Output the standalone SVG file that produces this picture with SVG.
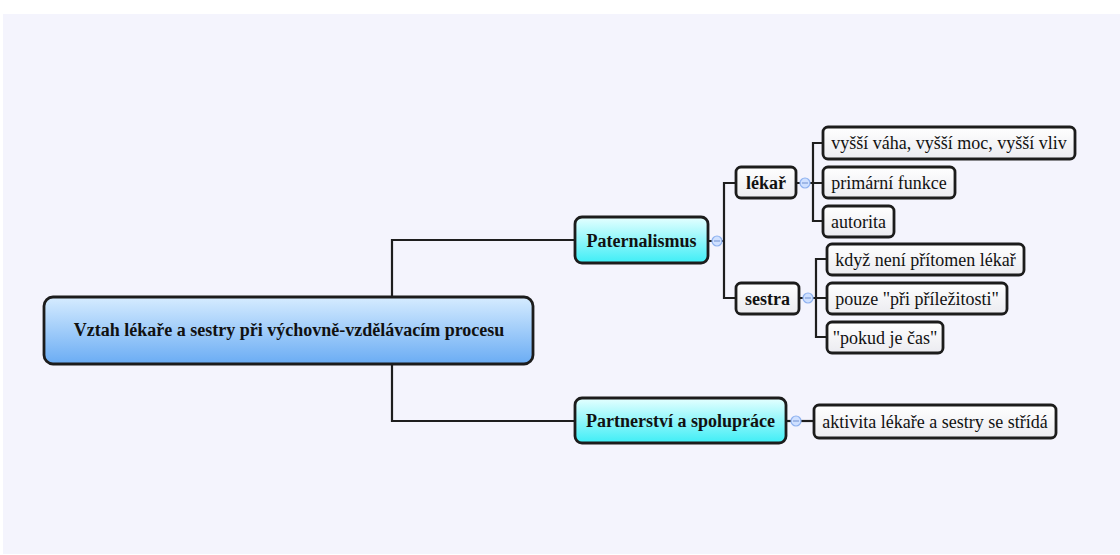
<svg xmlns="http://www.w3.org/2000/svg" width="1120" height="555" viewBox="0 0 1120 555">
  <defs>
    <linearGradient id="gRoot" x1="0" y1="0" x2="0" y2="1">
      <stop offset="0" stop-color="#d6ecff"/>
      <stop offset="1" stop-color="#6aacf4"/>
    </linearGradient>
    <linearGradient id="gMain" x1="0" y1="0" x2="0" y2="1">
      <stop offset="0" stop-color="#e6ffff"/>
      <stop offset="1" stop-color="#3eeef6"/>
    </linearGradient>
    <linearGradient id="gSub" x1="0" y1="0" x2="0" y2="1">
      <stop offset="0" stop-color="#ffffff"/>
      <stop offset="1" stop-color="#ebebf0"/>
    </linearGradient>
    <style>
      .root { fill: url(#gRoot); stroke: #1c1c1c; stroke-width: 2.8; }
      .main { fill: url(#gMain); stroke: #1c1c1c; stroke-width: 2.8; }
      .sub  { fill: url(#gSub);  stroke: #1c1c1c; stroke-width: 2.8; }
      .tb { font-family: "Liberation Serif", "Times New Roman", serif; font-weight: bold; font-size: 18px; fill: #111; text-anchor: middle; dominant-baseline: central; }
      .t  { font-family: "Liberation Serif", "Times New Roman", serif; font-size: 18px; fill: #111; text-anchor: middle; dominant-baseline: central; }
      .link { fill: none; stroke: #1e1e1e; stroke-width: 2.2; }
      .knob { fill: #cfe0ff; stroke: #8fb2f0; stroke-width: 1.2; }
      .knobbar { stroke: #6f8fd0; stroke-width: 1; }
    </style>
  </defs>

  <rect x="0" y="0" width="1120" height="555" fill="#ffffff"/>
  <rect x="3" y="14" width="1117" height="540" fill="#f4f4fd"/>

  <!-- connectors -->
  <g id="connectors">
    <path class="link" d="M392 297 V240 H575"/>
    <path class="link" d="M392 364 V421 H575"/>
    <path class="link" d="M708 241 H724 M736 183 H724 V298 H736"/>
    <path class="link" d="M796 183 H813 M823 143 H813 V221 H823 M813 183 H823"/>
    <path class="link" d="M799 298 H816 M827 259 H816 V337 H827 M816 298 H827"/>
    <path class="link" d="M786 421 H814"/>
    <g id="knobs">
      <circle class="knob" cx="717" cy="241" r="5"/>
      <line class="knobbar" x1="714" y1="241" x2="720" y2="241"/>
      <circle class="knob" cx="805" cy="183" r="5"/>
      <line class="knobbar" x1="802" y1="183" x2="808" y2="183"/>
      <circle class="knob" cx="808" cy="298" r="5"/>
      <line class="knobbar" x1="805" y1="298" x2="811" y2="298"/>
      <circle class="knob" cx="796" cy="421" r="5"/>
      <line class="knobbar" x1="793" y1="421" x2="799" y2="421"/>
    </g>
  </g>

  <g id="root">
    <rect class="root" x="44" y="297" width="489" height="67" rx="9"/>
    <text class="tb" x="289" y="330">Vztah lékaře a sestry při výchovně-vzdělávacím procesu</text>
  </g>

  <g id="paternalismus">
    <rect class="main" x="575" y="217" width="133" height="46" rx="7"/>
    <text class="tb" x="641.5" y="241">Paternalismus</text>
  </g>

  <g id="partnerstvi">
    <rect class="main" x="575" y="398" width="211" height="45" rx="7"/>
    <text class="tb" x="680.5" y="421">Partnerství a spolupráce</text>
  </g>

  <g id="lekar">
    <rect class="sub" x="736" y="167" width="60" height="31" rx="5"/>
    <text class="tb" x="766" y="183">lékař</text>
  </g>

  <g id="sestra">
    <rect class="sub" x="736" y="283" width="63" height="31" rx="5"/>
    <text class="tb" x="767.5" y="298.5">sestra</text>
  </g>

  <g id="vyssi-vaha">
    <rect class="sub" x="823" y="127" width="252" height="32" rx="5"/>
    <text class="t" x="949" y="143">vyšší váha, vyšší moc, vyšší vliv</text>
  </g>

  <g id="primarni-funkce">
    <rect class="sub" x="823" y="167" width="132" height="31" rx="5"/>
    <text class="t" x="889" y="182.5">primární funkce</text>
  </g>

  <g id="autorita">
    <rect class="sub" x="823" y="206" width="71" height="31" rx="5"/>
    <text class="t" x="858.5" y="221.5">autorita</text>
  </g>

  <g id="kdyz-neni">
    <rect class="sub" x="827" y="244" width="197" height="31" rx="5"/>
    <text class="t" x="925.5" y="259.5">když není přítomen lékař</text>
  </g>

  <g id="pouze-pri">
    <rect class="sub" x="827" y="283" width="180" height="31" rx="5"/>
    <text class="t" x="917" y="298.5">pouze "při příležitosti"</text>
  </g>

  <g id="pokud-je-cas">
    <rect class="sub" x="827" y="322" width="116" height="31" rx="5"/>
    <text class="t" x="885" y="337.5">"pokud je čas"</text>
  </g>

  <g id="aktivita">
    <rect class="sub" x="814" y="405" width="242" height="33" rx="5"/>
    <text class="t" x="935" y="421.5">aktivita lékaře a sestry se střídá</text>
  </g>
</svg>
